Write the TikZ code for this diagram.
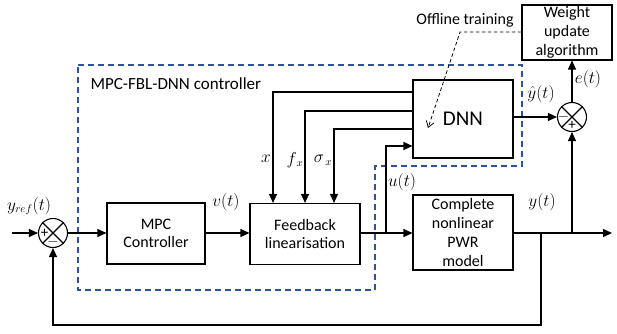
\documentclass[tikz,border=0pt]{standalone}
\usepackage{fontspec}
\setmainfont{Carlito}
\usetikzlibrary{arrows.meta}
\definecolor{dblue}{RGB}{47,84,150}
\begin{document}
\begin{tikzpicture}[x=1pt,y=-1pt,
  blk/.style={draw,line width=1.1pt,align=center,inner sep=0pt,font=\fontsize{16}{18.7}\selectfont},
  sumj/.style={draw,circle,line width=1.1pt,minimum size=29pt,inner sep=0pt},
  sig/.style={line width=1.1pt,-{Triangle[length=9pt,width=8pt]}},
  ln/.style={line width=1.1pt},
  sgn/.style={font=\fontsize{15}{15}\selectfont,inner sep=0pt},
  lab/.style={font=\fontsize{16}{18}\selectfont,inner sep=0.5pt},
  ctrl/.style={draw=dblue,line width=1.6pt,dash pattern=on 6pt off 4pt}]
\useasboundingbox (0,0) rectangle (617,333);
% dashed controller region
\draw[ctrl] (78,65) -- (522,65) -- (522,166) -- (375,166) -- (375,290) -- (78,290) -- cycle;
\node[anchor=west,font=\fontsize{17}{20}\selectfont] (ctl) at (87,84) {MPC-FBL-DNN controller};
% blocks
\node[blk,minimum width=98pt,minimum height=61pt] (mpc) at (156,233.5) {MPC\\Controller};
\node[blk,minimum width=110pt,minimum height=61pt] (fb) at (305,234) {Feedback\\linearisation};
\node[blk,minimum width=100pt,minimum height=78pt] (dnn) at (463,119) {};
\node[font=\fontsize{21}{24}\selectfont] (dnnt) at (463,119) {DNN};
\node[blk,minimum width=100pt,minimum height=75pt] (pwr) at (463,232.5) {Complete\\nonlinear\\PWR\\model};
\node[blk,minimum width=90pt,minimum height=55pt] (wua) at (567,32.5) {Weight\\update\\algorithm};
% summing junctions
\node[sumj] (s1) at (53,233) {};
\draw[ln] (s1.north west) -- (s1.south east) (s1.north east) -- (s1.south west);
\node[sgn] (s1p) at ([xshift=-8.5pt]s1.center) {+};
\node[sgn] (s1m) at ([yshift=-8.5pt]s1.center) {$-$};
\node[sumj] (s2) at (572,117) {};
\draw[ln] (s2.north west) -- (s2.south east) (s2.north east) -- (s2.south west);
\node[sgn] (s2m) at ([xshift=-8.5pt]s2.center) {$-$};
\node[sgn] (s2p) at ([yshift=-8.5pt]s2.center) {+};
% coordinates
\coordinate (in) at (12,233);
\coordinate (out) at (612,233);
\coordinate (ub) at (386,233);
\coordinate (yb) at (541,233);
\coordinate (eb) at (572,233);
\coordinate (fbk) at (541,325);
% main path
\draw[sig] (in) -- (s1);
\draw[sig] (s1) -- (mpc.west |- s1);
\draw[sig] (mpc.east |- s1) -- (fb.west |- s1);
\draw[sig] (fb.east |- s1) -- (pwr.west |- s1);
\draw[sig] (pwr.east |- s1) -- (out);
\draw[sig] (yb) -- (fbk) -| (s1.south);
\draw[sig] (eb) -- (s2.south);
\draw[sig] (ub) |- (dnn.west |- 0,146);
\draw[sig] (dnn.east |- s2) -- (s2.west);
\draw[sig] (s2.north) -- (wua.south -| s2);
% DNN to feedback
\draw[sig] (dnn.west |- 0,92) -| (273,0 |- fb.north);
\draw[sig] (dnn.west |- 0,111) -| (305,0 |- fb.north);
\draw[sig] (dnn.west |- 0,129) -| (334,0 |- fb.north);
% offline training
\node[font=\fontsize{16}{18}\selectfont] (off) at (465,20) {Offline training};
\coordinate (bend) at (460,32);
\coordinate (tip) at (428,128);
\draw[line width=0.8pt,dash pattern=on 3.5pt off 2.5pt,-{Straight Barb[length=6pt,width=8pt]}] (wua.west |- bend) -- (bend) -- (tip);
% labels
\node[lab] (lyr) at (29,206) {$y_{ref}(t)$};
\node[lab] (lv) at (226,202) {$v(t)$};
\node[lab] (lu) at (402,182) {$u(t)$};
\node[lab] (ly) at (542,202) {$y(t)$};
\node[lab] (lyh) at (541,94) {$\hat{y}(t)$};
\node[lab] (le) at (588,79) {$e(t)$};
\node[lab] (lx) at (266,159) {$x$};
\node[lab] (lf) at (295,160) {$f_{\,x}$};
\node[lab] (ls) at (323,160) {$\sigma_{\,x}$};
\end{tikzpicture}
\end{document}
